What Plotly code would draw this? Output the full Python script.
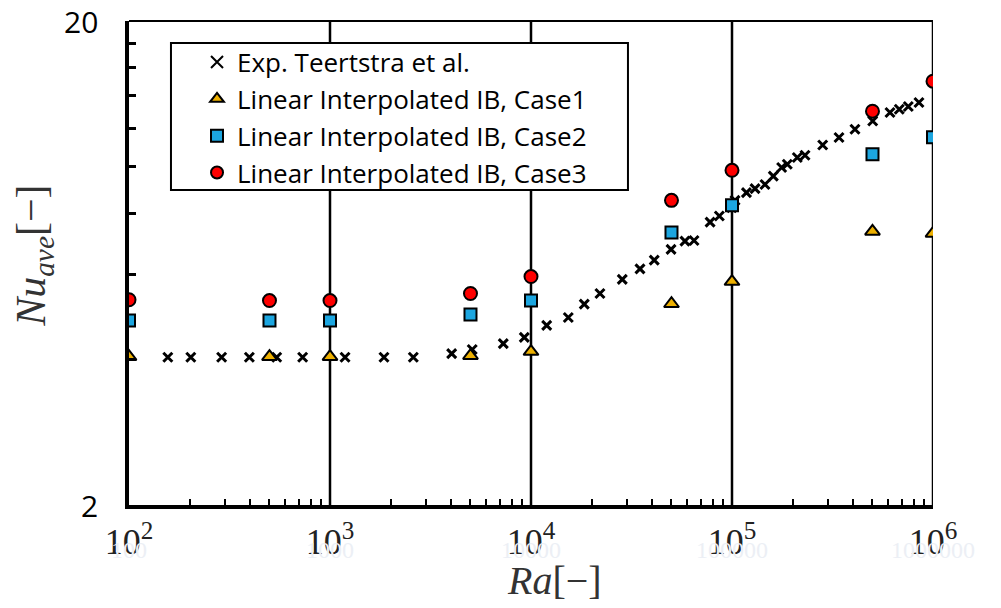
import math
import plotly.graph_objects as go

# ---------------- data ----------------
ra_sim = [1e2, 5e2, 1e3, 5e3, 1e4, 5e4, 1e5, 5e5, 1e6]
nu_case1 = [4.05, 4.05, 4.05, 4.07, 4.15, 5.21, 5.79, 7.35, 7.28]
nu_case2 = [4.81, 4.81, 4.81, 4.95, 5.29, 7.31, 8.32, 10.61, 11.50]
nu_case3 = [5.31, 5.29, 5.29, 5.47, 5.93, 8.52, 9.83, 13.02, 15.02]

ra_exp = [156, 203, 289, 397, 543, 731, 1188, 1856, 2597, 4030, 5100, 7280,
          9260, 11970, 15330, 18410, 22030, 28450, 34850, 41040, 49740, 58350,
          64710, 77800, 86500, 99700, 103500, 118000, 130200, 145900, 160500,
          176600, 188400, 211300, 230800, 282600, 340700, 409000, 501200,
          611000, 679500, 753500, 851400]
nu_exp = [4.04, 4.04, 4.04, 4.04, 4.04, 4.04, 4.04, 4.04, 4.04, 4.11, 4.19,
          4.31, 4.44, 4.70, 4.88, 5.20, 5.47, 5.85, 6.15, 6.41, 6.75, 7.02,
          7.04, 7.68, 7.91, 8.23, 8.52, 8.84, 9.01, 9.19, 9.56, 9.96, 10.12,
          10.45, 10.56, 11.09, 11.49, 11.95, 12.43, 12.94, 13.14, 13.32, 13.57]

x_decades = [1e2, 1e3, 1e4, 1e5, 1e6]
x_decade_labels = ["10<sup>2</sup>", "10<sup>3</sup>", "10<sup>4</sup>",
                   "10<sup>5</sup>", "10<sup>6</sup>"]
x_ghost_labels = ["100", "1000", "10000", "100000", "1000000"]
x_minor = [m * d for d in [1e2, 1e3, 1e4, 1e5] for m in range(2, 10)]
y_major = [2, 20]
y_major_text = ["2", "20"]
y_minor = [4, 6, 8, 10, 12, 14, 16, 18]

names = ["Exp. Teertstra et al.", "Linear Interpolated IB, Case1",
         "Linear Interpolated IB, Case2", "Linear Interpolated IB, Case3"]

# ---------------- figure ----------------
fig = go.Figure()
fig.add_trace(go.Scatter(
    x=ra_exp, y=nu_exp, mode="markers", name=names[0], legendgroup="a",
    marker=dict(symbol="x-thin", size=9, color="black",
                line=dict(color="black", width=3))))
fig.add_trace(go.Scatter(
    x=ra_sim, y=nu_case1, mode="markers", name=names[1], legendgroup="b",
    marker=dict(symbol="triangle-up", size=13, color="#EDB000",
                line=dict(color="black", width=2))))
fig.add_trace(go.Scatter(
    x=ra_sim, y=nu_case2, mode="markers", name=names[2], legendgroup="c",
    marker=dict(symbol="square", size=12, color="#1CA6E0",
                line=dict(color="black", width=2))))
fig.add_trace(go.Scatter(
    x=ra_sim, y=nu_case3, mode="markers", name=names[3], legendgroup="d",
    marker=dict(symbol="circle", size=13, color="#FF0000",
                line=dict(color="black", width=2))))

# vertical decade lines
for xv in x_decades[1:]:
    fig.add_shape(type="line", xref="x", yref="paper", x0=xv, x1=xv, y0=0, y1=1,
                  line=dict(color="black", width=2.5), layer="below")
# top border
fig.add_shape(type="line", xref="paper", yref="paper", x0=0, x1=1, y0=1, y1=1,
              line=dict(color="black", width=2), layer="below")
# legend frame
fig.add_shape(type="rect", xref="paper", yref="paper",
              x0=0.0522, x1=0.6206, y0=0.6508, y1=0.9545,
              fillcolor="white", line=dict(color="black", width=2), layer="below")

# faint ghost labels under the tick labels
for xv, t in zip(x_decades, x_ghost_labels):
    fig.add_annotation(x=math.log10(xv), xref="x", y=-0.093, yref="paper",
                       yanchor="middle", text=t, showarrow=False,
                       font=dict(family="Liberation Serif", size=24, color="#eceff5"))

# y tick labels
for yv, t in zip(y_major, y_major_text):
    fig.add_annotation(x=-0.036, xref="paper", y=math.log10(yv), yref="y",
                       xanchor="right", yanchor="middle", text=t, showarrow=False,
                       font=dict(family="Open Sans", size=30, color="black"))

fig.update_xaxes(
    type="log", range=[2, 6],
    tickvals=x_decades, ticktext=x_decade_labels,
    ticks="", ticklabelstandoff=2,
    tickfont=dict(family="Liberation Serif", size=36, color="#222222"),
    minor=dict(tickvals=x_minor, ticks="inside", ticklen=6, tickwidth=2,
               tickcolor="black", showgrid=False),
    showgrid=False, zeroline=False,
    showline=True, linecolor="black", linewidth=3.5, mirror=False,
)
fig.update_yaxes(
    type="log", range=[math.log10(2), math.log10(20)],
    tickvals=y_major, showticklabels=False, ticks="",
    minor=dict(tickvals=y_minor, ticks="inside", ticklen=7, tickwidth=2.5,
               tickcolor="black", showgrid=False),
    showgrid=False, zeroline=False,
    showline=True, linecolor="black", linewidth=3.5, mirror=False,
)

# axis titles
fig.add_annotation(x=0.529, xref="paper", y=-0.155, yref="paper", yanchor="middle",
                   text="<i>Ra</i>[−]", showarrow=False,
                   font=dict(family="Liberation Serif", size=40, color="#333333"))
fig.add_annotation(x=-0.118, xref="paper", y=0.515, yref="paper", xanchor="center",
                   text="<i>Nu</i><sub><i>ave</i></sub>[−]", showarrow=False,
                   textangle=-90,
                   font=dict(family="Liberation Serif", size=42, color="#333333"))

fig.update_layout(
    width=1001, height=608,
    margin=dict(l=129, r=68, t=21, b=103),
    plot_bgcolor="white", paper_bgcolor="white",
    showlegend=True,
    legend=dict(x=0.0846, y=0.9635, xanchor="left", yanchor="top",
                bgcolor="rgba(0,0,0,0)", borderwidth=0,
                font=dict(family="Open Sans", size=26, color="black"),
                tracegroupgap=0, itemsizing="constant"),
)

fig.write_html("out.html")
